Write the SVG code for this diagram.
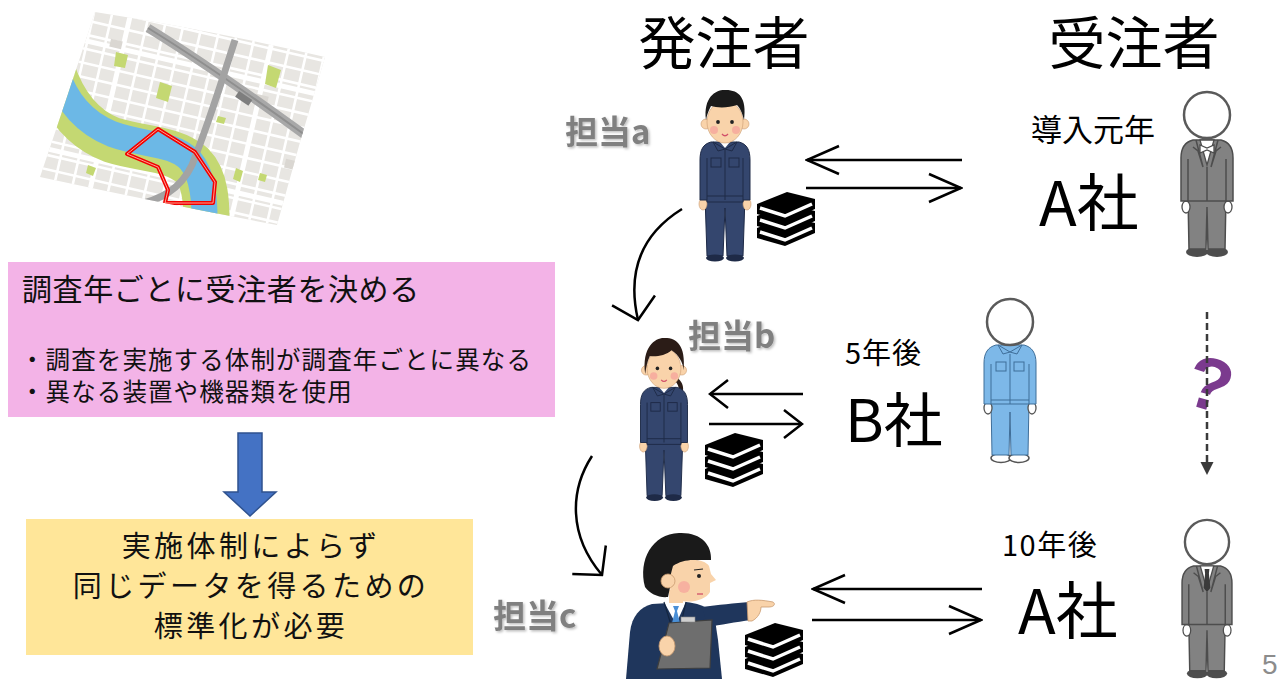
<svg xmlns="http://www.w3.org/2000/svg" width="1282" height="679" viewBox="0 0 1282 679">
  <style>
    .jp { font-family: "Noto Sans CJK JP", "Noto Sans", sans-serif; }
    .lbl { fill: #808080; font-weight: 700; font-size: 33px; filter: url(#soft-shadow); }
    .ink { fill: #000000; }
    .flow { fill: none; stroke: #000000; stroke-width: 2.5; }
    .skin { fill: #F9D3AA; stroke: #C99A70; stroke-width: 0.6; }
    .navy { fill: #34466E; stroke: #1E2A47; stroke-width: 1; }
    .gsuit { fill: #828282; stroke: #4D4D4D; stroke-width: 1.5; }
    .gline { fill: none; stroke: #4D4D4D; stroke-width: 1.5; }
  </style>
  <defs>
    <filter id="soft-shadow" x="-10%" y="-10%" width="130%" height="140%">
      <feDropShadow dx="1.5" dy="1.5" stdDeviation="1" flood-color="#000" flood-opacity="0.25"/>
    </filter>
    <clipPath id="map-clip">
      <path d="M95 12 Q210 30 325 57 Q300 140 277 225 Q160 203 40 177 Q68 95 95 12 Z"/>
    </clipPath>
    <marker id="chev-long" markerUnits="userSpaceOnUse" viewBox="-36 -17 38 34" markerWidth="38" markerHeight="34" refX="0" refY="0" orient="auto">
      <path d="M-32 -14 L0 0 L-32 14" fill="none" stroke="#000" stroke-width="2.5"/>
    </marker>
    <marker id="chev-short" markerUnits="userSpaceOnUse" viewBox="-22 -17 24 34" markerWidth="24" markerHeight="34" refX="0" refY="0" orient="auto">
      <path d="M-18 -14 L0 0 L-18 14" fill="none" stroke="#000" stroke-width="2.5"/>
    </marker>
    <marker id="chev-curve" markerUnits="userSpaceOnUse" viewBox="-24 -25 26 50" markerWidth="26" markerHeight="50" refX="0" refY="0" orient="auto">
      <path d="M-20 -22 L0 0 L-20 22" fill="none" stroke="#000" stroke-width="2.5"/>
    </marker>

    <!-- stack of three books -->
    <g id="books">
      <path d="M0 36 L30 24 L58 31 L58 41 L28 54 L0 46 Z" fill="#000"/>
      <path d="M3 40 L28 48 L55 36" fill="none" stroke="#fff" stroke-width="3.5"/>
      <path d="M0 24 L30 12 L58 19 L58 29 L28 42 L0 34 Z" fill="#000"/>
      <path d="M3 28 L28 36 L55 24" fill="none" stroke="#fff" stroke-width="3.5"/>
      <path d="M0 12 L30 0 L58 7 L58 17 L28 30 L0 22 Z" fill="#000"/>
      <path d="M3 16 L28 24 L55 12" fill="none" stroke="#fff" stroke-width="3.5"/>
    </g>

    <!-- work uniform body, origin at top of head -->
    <g id="worker-body">
      <rect x="-5" y="46" width="10" height="10" class="skin"/>
      <path class="navy" d="M-20 106 L20 106 L18 166 L2 166 L0 118 L-2 166 L-18 166 Z"/>
      <ellipse class="skin" cx="-22" cy="114" rx="4" ry="6"/>
      <ellipse class="skin" cx="22" cy="114" rx="4" ry="6"/>
      <path class="navy" d="M-14 52 L14 52 C22 54 25 60 25 70 L25 110 L18 110 L18 112 L-18 112 L-18 110 L-25 110 L-25 70 C-25 60 -22 54 -14 52 Z"/>
      <path d="M-18 68 L-18 110 M18 68 L18 110 M0 60 L0 110 M-18 106 L18 106" fill="none" stroke="#1E2A47" stroke-width="1"/>
      <path d="M-5 52 L5 52 L0 58 Z" fill="#fff"/>
      <path d="M-12 52 L0 59 L12 52 M-12 52 L-7 61 L0 59 L7 61 L12 52" fill="none" stroke="#1E2A47" stroke-width="1"/>
      <rect x="-14" y="68" width="10" height="9" fill="none" stroke="#1E2A47" stroke-width="1"/>
      <rect x="4" y="68" width="10" height="9" fill="none" stroke="#1E2A47" stroke-width="1"/>
      <ellipse cx="-10" cy="168" rx="9" ry="3.5" fill="#1E2A47"/>
      <ellipse cx="10" cy="168" rx="9" ry="3.5" fill="#1E2A47"/>
    </g>

    <!-- face, origin at top of head -->
    <g id="face">
      <circle class="skin" cx="-19" cy="34" r="5"/>
      <circle class="skin" cx="19" cy="34" r="5"/>
      <ellipse class="skin" cx="0" cy="32" rx="18" ry="21"/>
      <circle cx="-11" cy="40" r="4" fill="#F6A39B" opacity="0.75"/>
      <circle cx="11" cy="40" r="4" fill="#F6A39B" opacity="0.75"/>
      <circle cx="-7" cy="32" r="1.9" fill="#222"/>
      <circle cx="7" cy="32" r="1.9" fill="#222"/>
      <path d="M-3 44 Q0 47.5 3 44" fill="none" stroke="#D2506A" stroke-width="1.3"/>
    </g>

    <!-- grey suit body, origin at centre of head -->
    <g id="grey-suit">
      <ellipse cx="-10" cy="137" rx="11" ry="5" fill="#4D4D4D"/>
      <ellipse cx="10" cy="137" rx="11" ry="5" fill="#4D4D4D"/>
      <path class="gsuit" d="M-19 80 L19 80 L18 134 L1 134 L0 92 L-1 134 L-18 134 Z"/>
      <ellipse cx="-21" cy="92" rx="4" ry="6" fill="#fff" stroke="#4D4D4D" stroke-width="1.3"/>
      <ellipse cx="21" cy="92" rx="4" ry="6" fill="#fff" stroke="#4D4D4D" stroke-width="1.3"/>
      <path class="gsuit" d="M-14 25 L14 25 C22 27 26 33 26 43 L26 86 L-26 86 L-26 43 C-26 33 -22 27 -14 25 Z"/>
      <path class="gline" d="M-19 44 L-19 86 M19 44 L19 86 M0 52 L0 86"/>
      <path d="M-7 25 L7 25 L0 50 Z" fill="#fff" stroke="#4D4D4D" stroke-width="1.3"/>
      <path class="gline" d="M-11 25 L-4 52 L-9 36 L-14 32 M11 25 L4 52 L9 36 L14 32"/>
      <circle cx="0" cy="0" r="23" fill="#fff" stroke="#5A5A5A" stroke-width="2.5"/>
    </g>
  </defs>

  <rect width="1282" height="679" fill="#FFFFFF"/>

  <!-- street map -->
  <g id="map">
    <g clip-path="url(#map-clip)">
      <rect x="30" y="0" width="310" height="240" fill="#E8E6E2"/>
      <g transform="rotate(13 180 120)" fill="none" stroke="#FFFFFF" stroke-width="2.6">
        <path d="M-20 -40H380 M-20 -26H380 M-20 -12H380 M-20 2H380 M-20 16H380 M-20 30H380 M-20 44H380 M-20 58H380 M-20 72H380 M-20 86H380 M-20 100H380 M-20 114H380 M-20 128H380 M-20 142H380 M-20 156H380 M-20 170H380 M-20 184H380 M-20 198H380 M-20 212H380 M-20 226H380 M-20 240H380 M-20 254H380"/>
        <path d="M0 -60V290 M18 -60V290 M36 -60V290 M54 -60V290 M72 -60V290 M90 -60V290 M108 -60V290 M126 -60V290 M144 -60V290 M162 -60V290 M180 -60V290 M198 -60V290 M216 -60V290 M234 -60V290 M252 -60V290 M270 -60V290 M288 -60V290 M306 -60V290 M324 -60V290 M342 -60V290 M360 -60V290"/>
        <path d="M-20 64H380 M-20 178H380 M108 -60V290 M252 -60V290" stroke-width="5"/>
      </g>
      <g fill="#DAD7D2">
        <rect x="110" y="40" width="12" height="8" transform="rotate(13 116 44)"/>
        <rect x="255" y="95" width="13" height="9" transform="rotate(13 261 99)"/>
        <rect x="80" y="190" width="14" height="8" transform="rotate(13 87 194)"/>
        <rect x="285" y="160" width="12" height="9" transform="rotate(13 291 164)"/>
      </g>
      <!-- river with green banks -->
      <path d="M52 70 C62 100 80 128 112 140 C145 150 172 148 192 165 C205 178 208 200 206 240" fill="none" stroke="#C4D872" stroke-width="46"/>
      <path d="M56 72 C66 100 82 122 112 134 C145 146 172 142 190 160 C203 175 206 200 204 240" fill="none" stroke="#6CB8E6" stroke-width="26"/>
      <!-- parks -->
      <g fill="#C4D872">
        <path d="M116 52 L128 55 L125 68 L114 66 Z"/>
        <path d="M160 82 L172 86 L168 102 L156 98 Z"/>
        <path d="M268 65 L281 70 L276 88 L265 84 Z"/>
        <path d="M218 116 L226 118 L224 124 L216 122 Z"/>
        <path d="M236 168 L243 171 L240 182 L233 179 Z"/>
        <path d="M260 173 L267 175 L265 182 L258 180 Z"/>
        <path d="M88 165 L96 168 L93 176 L86 173 Z"/>
      </g>
      <!-- highways and railway -->
      <path d="M148 28 C200 60 250 95 305 135" fill="none" stroke="#A8A8A8" stroke-width="9"/>
      <path d="M148 28 C200 60 250 95 305 135" fill="none" stroke="#8F8F8F" stroke-width="2"/>
      <path d="M235 40 C222 80 210 120 192 165 C180 190 160 200 135 205" fill="none" stroke="#A3A3A3" stroke-width="7"/>
      <rect x="236" y="95" width="16" height="7" fill="#7E7E7E" transform="rotate(34 244 98)"/>
      <!-- marked survey area -->
      <path d="M127 154 L158 129 L195 152 L215 182 L213 203 L165 203 L168 190 L158 167 Z" fill="none" stroke="#F20000" stroke-width="4" stroke-linejoin="round"/>
      <path d="M127 154 L158 129 L195 152 L215 182 L213 203 L165 203 L168 190 L158 167 Z" fill="none" stroke="#FFB4A0" stroke-width="0.9" stroke-linejoin="round"/>
    </g>
  </g>

  <!-- policy box -->
  <g id="box-policy">
    <rect x="8" y="262" width="547" height="155" fill="#F3B3E7"/>
    <text class="jp" x="22" y="300" font-size="30" letter-spacing="0.6" fill="#111">調査年ごとに受注者を決める</text>
    <text class="jp" x="20" y="369" font-size="24.5" letter-spacing="1.1" fill="#111">・調査を実施する体制が調査年ごとに異なる</text>
    <text class="jp" x="20" y="401" font-size="24.5" letter-spacing="1.1" fill="#111">・異なる装置や機器類を使用</text>
  </g>

  <!-- block arrow -->
  <g id="arrow-down">
    <path d="M238 433 L262 433 L262 492 L276 492 L250 516 L224 492 L238 492 Z" fill="#4472C4" stroke="#2F528F" stroke-width="1.5"/>
  </g>

  <!-- conclusion box -->
  <g id="box-standard">
    <rect x="26" y="519" width="447" height="136" fill="#FFE699"/>
    <text class="jp" x="251" y="557" font-size="29" letter-spacing="3.4" fill="#111" text-anchor="middle">実施体制によらず</text>
    <text class="jp" x="251" y="597" font-size="29" letter-spacing="3.4" fill="#111" text-anchor="middle">同じデータを得るための</text>
    <text class="jp" x="251" y="637" font-size="29" letter-spacing="3.4" fill="#111" text-anchor="middle">標準化が必要</text>
  </g>

  <!-- column headers -->
  <g id="header-orderer">
    <text class="jp ink" x="724" y="64" font-size="57" text-anchor="middle">発注者</text>
  </g>
  <g id="header-contractor">
    <text class="jp ink" x="1134" y="64" font-size="57" text-anchor="middle">受注者</text>
  </g>

  <!-- orderer staff a -->
  <g id="client-a">
    <text class="jp lbl" x="565" y="144">担当a</text>
    <g transform="translate(725 90)">
      <use href="#worker-body"/>
      <use href="#face"/>
      <path d="M-19 30 C-22 6 -8 -1 1 0 C14 0 22 8 19 30 C17 22 15 18 12 15 C4 18 -8 18 -14 16 C-16 20 -18 24 -19 30 Z" fill="#1A1A1A"/>
    </g>
    <use href="#books" transform="translate(757 192)"/>
  </g>

  <!-- orderer staff b -->
  <g id="client-b">
    <text class="jp lbl" x="688" y="348">担当b</text>
    <g transform="translate(664 338) scale(0.94 0.95)">
      <path d="M10 40 C22 44 24 58 14 66 C18 56 16 48 10 44 Z" fill="#2B1C17"/>
      <use href="#worker-body"/>
      <use href="#face"/>
      <path d="M-20 38 C-24 8 -8 -1 1 0 C14 0 23 8 21 34 C20 26 16 18 8 13 C2 19 -10 20 -15 19 C-18 25 -19 31 -20 38 Z" fill="#2B1C17"/>
    </g>
    <use href="#books" transform="translate(705 433)"/>
  </g>

  <!-- orderer staff c -->
  <g id="client-c">
    <text class="jp lbl" x="493" y="628">担当c</text>
    <path d="M652 604 C640 607 632 616 630 632 L626 679 L722 679 L718 640 L714 613 C706 606 696 603 686 602 Z" fill="#1F365C"/>
    <path d="M702 607 C718 605 735 603 749 602 L751 620 C736 622 720 625 708 627 Z" fill="#1F365C"/>
    <path d="M747 602 C754 599 762 600 773 602 C776 604 774 607 769 607 L761 607 C761 612 758 618 752 621 L748 621 Z" fill="#F9D3AA" stroke="#C99A70" stroke-width="0.8"/>
    <path d="M664 602 L686 602 L676 624 Z" fill="#FFFFFF"/>
    <path d="M673 606 L679 606 L677 611 L680 623 L676 627 L672 623 L675 611 Z" fill="#4A8FD6"/>
    <path d="M664 602 L672 628 M686 602 L680 628" fill="none" stroke="#142640" stroke-width="1.2"/>
    <path d="M669 623 L712 620 L710 668 L657 669 Z" fill="#6E6E6E" stroke="#3E3E3E" stroke-width="1.2"/>
    <rect x="681" y="617" width="14" height="5" fill="#CFCFCF" stroke="#888" stroke-width="0.6"/>
    <ellipse cx="667" cy="646" rx="8" ry="10" fill="#F9D3AA" stroke="#C99A70" stroke-width="0.8"/>
    <rect x="669" y="590" width="14" height="13" fill="#F9D3AA"/>
    <path d="M645 587 C638 560 652 534 679 533 C701 532 712 545 711 560 L700 560 C690 561 680 566 673 573 L668 597 C659 598 650 594 645 587 Z" fill="#1A1A1A"/>
    <path d="M673 566 C684 558 704 558 709 566 L711 574 L716 580 L710 583 L710 592 C706 600 690 604 678 600 C670 596 667 586 673 566 Z" fill="#F9D3AA"/>
    <circle cx="668" cy="581" r="7" fill="#F9D3AA" stroke="#C99A70" stroke-width="0.8"/>
    <circle cx="684" cy="587" r="6" fill="#F6A39B" opacity="0.7"/>
    <circle cx="699" cy="576" r="2" fill="#222"/>
    <path d="M694 570 L703 569" stroke="#222" stroke-width="1.2"/>
    <path d="M697 594 L703 594" stroke="#D2506A" stroke-width="1.3"/>
    <use href="#books" transform="translate(745 623)"/>
  </g>

  <!-- contractor A, first year -->
  <g id="contractor-a1">
    <text class="jp ink" x="1031" y="141" font-size="31">導入元年</text>
    <text class="jp ink" x="1039" y="226" font-size="62">A社</text>
    <g transform="translate(1207 115)">
      <use href="#grey-suit"/>
      <path d="M-7 30 L0 33 L7 30 L7 38 L0 35 L-7 38 Z" fill="#fff" stroke="#4D4D4D" stroke-width="1.3"/>
    </g>
  </g>

  <!-- contractor B, five years later -->
  <g id="contractor-b">
    <text class="jp ink" x="845" y="364" font-size="29" letter-spacing="1">5年後</text>
    <text class="jp ink" x="845" y="442" font-size="59">B社</text>
    <g transform="translate(1010 322)">
      <ellipse cx="-9" cy="136" rx="10" ry="4.5" fill="#fff" stroke="#555" stroke-width="1.5"/>
      <ellipse cx="9" cy="136" rx="10" ry="4.5" fill="#fff" stroke="#555" stroke-width="1.5"/>
      <path d="M-19 78 L19 78 L18 133 L1 133 L0 90 L-1 133 L-18 133 Z" fill="#7DB8E8" stroke="#3F6E99" stroke-width="1"/>
      <ellipse cx="-22" cy="86" rx="4" ry="6" fill="#fff" stroke="#555" stroke-width="1.3"/>
      <ellipse cx="22" cy="86" rx="4" ry="6" fill="#fff" stroke="#555" stroke-width="1.3"/>
      <path d="M-14 23 L14 23 C22 25 26 31 26 41 L26 82 L-26 82 L-26 41 C-26 31 -22 25 -14 23 Z" fill="#7DB8E8" stroke="#3F6E99" stroke-width="1"/>
      <path d="M-19 42 L-19 82 M19 42 L19 82 M0 32 L0 82 M-19 78 L19 78" fill="none" stroke="#3F6E99" stroke-width="1"/>
      <path d="M-12 23 L0 30 L12 23 M-12 23 L-7 32 L0 30 L7 32 L12 23" fill="none" stroke="#3F6E99" stroke-width="1"/>
      <rect x="-14" y="40" width="10" height="9" fill="none" stroke="#3F6E99" stroke-width="1"/>
      <rect x="4" y="40" width="10" height="9" fill="none" stroke="#3F6E99" stroke-width="1"/>
      <circle cx="0" cy="0" r="23" fill="#fff" stroke="#5A5A5A" stroke-width="2.5"/>
    </g>
  </g>

  <!-- contractor A, ten years later -->
  <g id="contractor-a2">
    <text class="jp ink" x="1002" y="556" font-size="29" letter-spacing="1.5">10年後</text>
    <text class="jp ink" x="1018" y="634" font-size="62">A社</text>
    <g transform="translate(1207 542) scale(0.96)">
      <use href="#grey-suit"/>
      <path d="M-2.5 28 L2.5 28 L2 33 L3.5 48 L0 52 L-3.5 48 L-2 33 Z" fill="#3A3A3A"/>
    </g>
  </g>

  <!-- unknown next contractor -->
  <g id="unknown-next">
    <text x="1211" y="410" font-family="Liberation Sans, sans-serif" font-weight="700" font-size="74" fill="#7B3A8E" text-anchor="middle" transform="rotate(16 1211 380)">?</text>
  </g>

  <!-- connectors -->
  <g id="connectors">
    <line class="flow" x1="962" y1="160" x2="807" y2="160" marker-end="url(#chev-long)"/>
    <line class="flow" x1="806" y1="188" x2="961" y2="188" marker-end="url(#chev-long)"/>
    <line class="flow" x1="803" y1="394" x2="710" y2="394" marker-end="url(#chev-short)"/>
    <line class="flow" x1="709" y1="424" x2="802" y2="424" marker-end="url(#chev-short)"/>
    <line class="flow" x1="982" y1="589" x2="813" y2="589" marker-end="url(#chev-long)"/>
    <line class="flow" x1="812" y1="620" x2="981" y2="620" marker-end="url(#chev-long)"/>
    <path class="flow" d="M682 209 C645 232 626 268 638 320" marker-end="url(#chev-curve)"/>
    <path class="flow" d="M592 456 C570 490 568 535 602 575" marker-end="url(#chev-curve)"/>
    <line x1="1207" y1="312" x2="1207" y2="463" stroke="#3A3A3A" stroke-width="2.5" stroke-dasharray="7 4"/>
    <path d="M1200.5 462 L1213.5 462 L1207 475 Z" fill="#3A3A3A"/>
  </g>

  <!-- page number -->
  <text x="1262" y="674" font-family="Liberation Sans, sans-serif" font-size="28" fill="#8C8C8C">5</text>
</svg>
